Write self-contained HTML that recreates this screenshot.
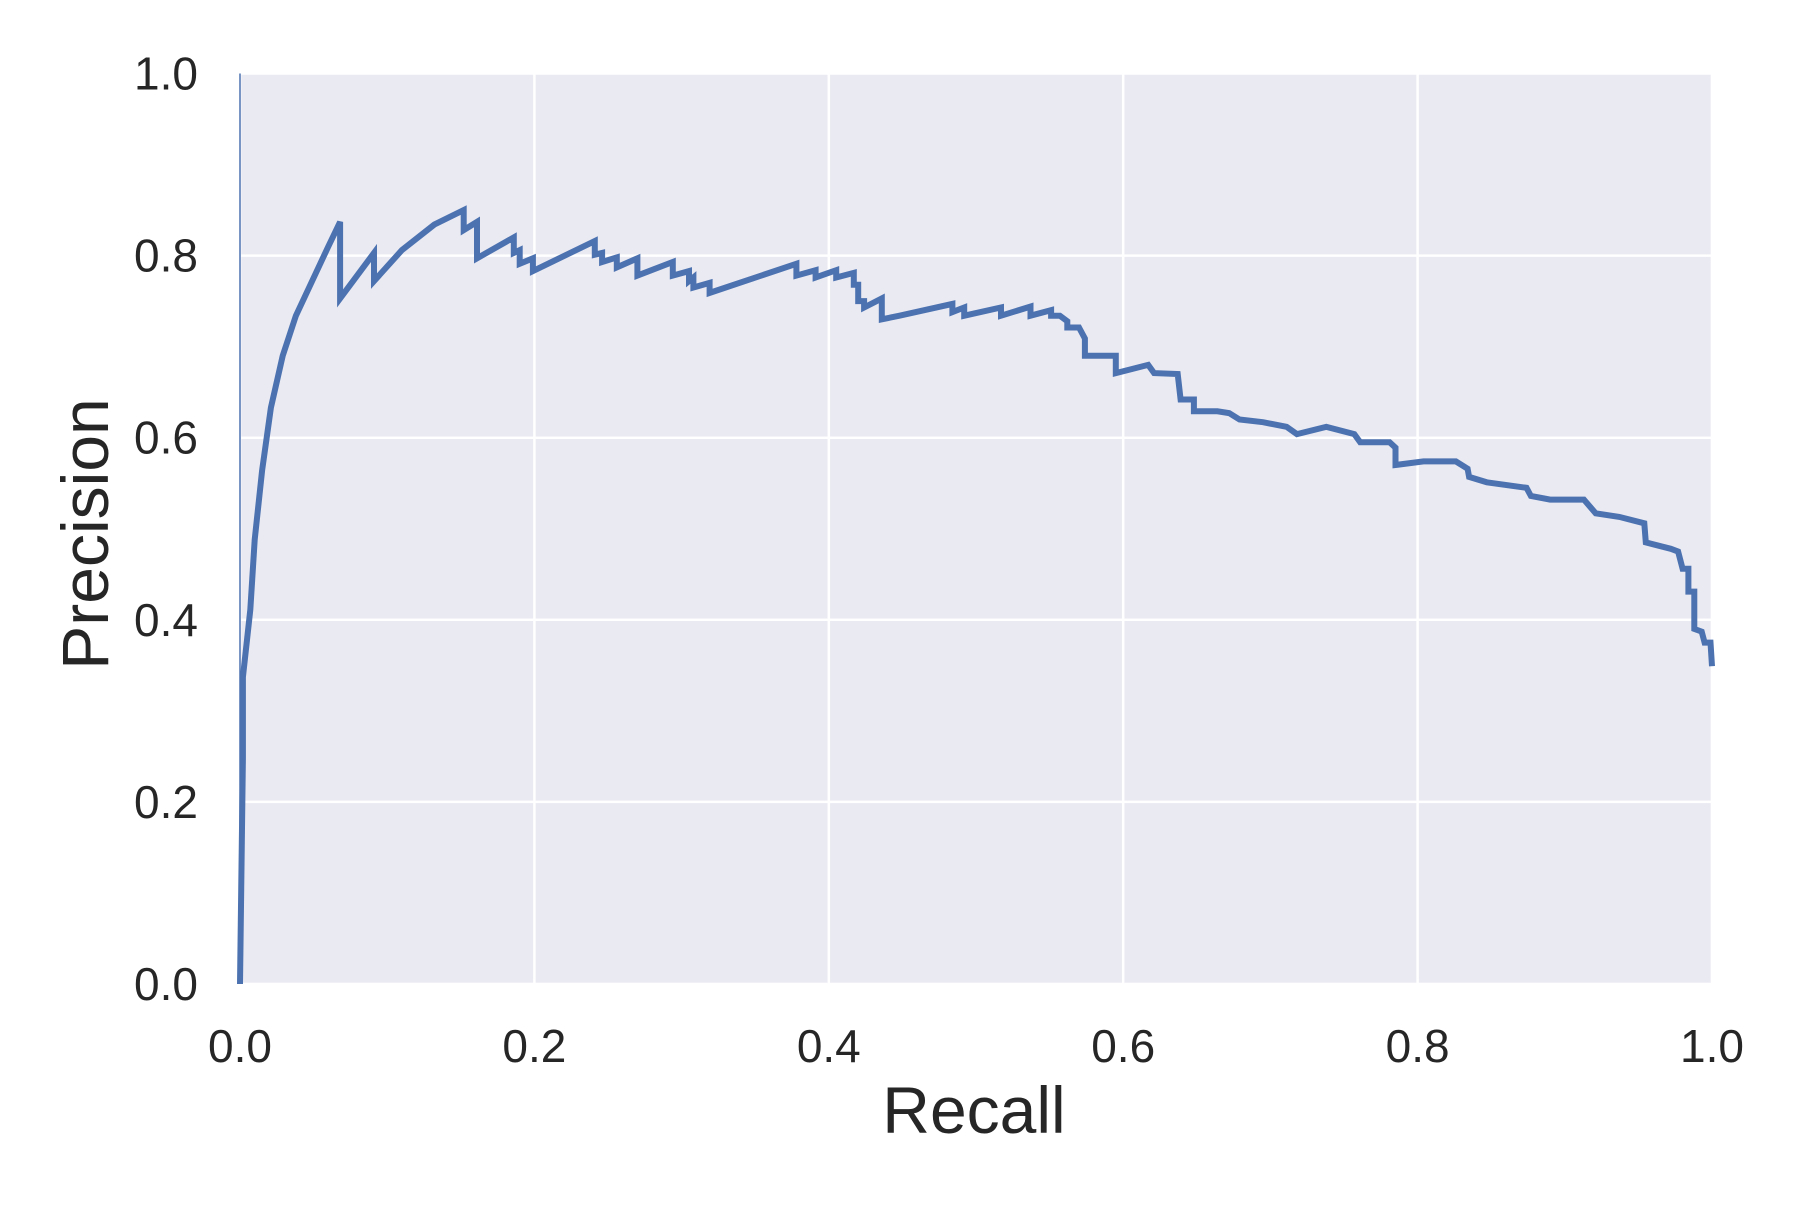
<!DOCTYPE html>
<html><head><meta charset="utf-8"><style>
html,body{margin:0;padding:0;background:#fff;}
svg text{font-family:"Liberation Sans",Arial,sans-serif;fill:#262626;}
</style></head><body>
<svg id="chart" width="1800" height="1200" xmlns="http://www.w3.org/2000/svg"></svg>
<script>
const recall=[0,0,.002,.002,.007,.010,.015,.021,.029,.038,.049,.060,.068,.068,.091,.091,.110,.132,.152,.152,.161,.161,.186,.186,.190,.190,.199,.199,.241,.241,.246,.246,.256,.256,.270,.270,.294,.294,.305,.305,.308,.308,.319,.319,.378,.378,.391,.391,.405,.405,.417,.417,.420,.420,.424,.424,.436,.436,.448,.484,.484,.492,.492,.517,.517,.537,.537,.551,.551,.557,.562,.562,.570,.574,.574,.586,.595,.595,.617,.621,.637,.639,.648,.648,.664,.672,.679,.695,.711,.718,.738,.757,.761,.781,.785,.785,.804,.826,.834,.835,.847,.874,.877,.890,.913,.921,.937,.954,.955,.972,.977,.980,.984,.984,.988,.988,.993,.995,.999,1.0];
const precision=[1.0,0,.248,.337,.411,.488,.564,.633,.690,.734,.772,.810,.837,.753,.803,.772,.806,.834,.850,.828,.837,.797,.820,.803,.806,.791,.797,.783,.816,.801,.803,.793,.798,.787,.797,.778,.793,.778,.783,.772,.776,.765,.770,.759,.791,.778,.784,.776,.784,.776,.781,.768,.768,.750,.750,.743,.753,.730,.734,.747,.738,.743,.734,.743,.734,.744,.734,.740,.734,.734,.728,.721,.721,.709,.690,.690,.690,.671,.680,.671,.670,.642,.642,.629,.629,.627,.620,.617,.612,.604,.612,.604,.595,.595,.589,.570,.574,.574,.566,.557,.551,.545,.536,.532,.532,.517,.513,.506,.485,.478,.475,.456,.456,.431,.431,.390,.387,.375,.375,.349];
const xTicks=[0,0.2,0.4,0.6,0.8,1.0];
const yTicks=[0,0.2,0.4,0.6,0.8,1.0];
const xTickLabels=["0.0","0.2","0.4","0.6","0.8","1.0"];
const yTickLabels=["0.0","0.2","0.4","0.6","0.8","1.0"];

const svg=document.getElementById('chart');
const NS='http://www.w3.org/2000/svg';
const L=240,T=73.5,W=1472,H=910.5;
const sx=v=>L+v*W, sy=v=>T+H-v*H;
function mk(tag,attrs){const e=document.createElementNS(NS,tag);for(const k in attrs)e.setAttribute(k,attrs[k]);svg.appendChild(e);return e;}

const bg=mk('rect',{x:L,y:T,width:W,height:H,fill:'#eaeaf2'});



xTicks.forEach((v,i)=>{
  const g=mk('line',{x1:sx(v),x2:sx(v),y1:T,y2:T+H,stroke:'#fff','stroke-width':2.5});
  
  
  const t=mk('text',{x:sx(v),y:1062,'font-size':46,'text-anchor':'middle'});
  t.textContent=xTickLabels[i];
  
  
});
yTicks.forEach((v,i)=>{
  const g=mk('line',{x1:L,x2:L+W,y1:sy(v),y2:sy(v),stroke:'#fff','stroke-width':2.5});
  
  
  const t=mk('text',{x:198,y:sy(v)+16,'font-size':46,'text-anchor':'end'});
  t.textContent=yTickLabels[i];
  
  
});

const edge=mk('line',{x1:sx(recall[0]),x2:sx(recall[1]),y1:sy(precision[0]),y2:sy(precision[1]),stroke:'#4c72b0','stroke-width':1.5});



let d='';
for(let i=1;i<recall.length;i++){d+=(i===1?'M':'L')+sx(recall[i]).toFixed(1)+','+sy(precision[i]).toFixed(1);}
const p=mk('path',{d:d,fill:'none',stroke:'#4c72b0','stroke-width':6,'stroke-linejoin':'miter','stroke-miterlimit':4});



const xl=mk('text',{x:974,y:1133,'font-size':66,'text-anchor':'middle'});
xl.textContent='Recall';


const yl=mk('text',{x:0,y:0,'font-size':66,'text-anchor':'middle',transform:'translate(108,534) rotate(-90)'});
yl.textContent='Precision';


</script>
</body></html>
